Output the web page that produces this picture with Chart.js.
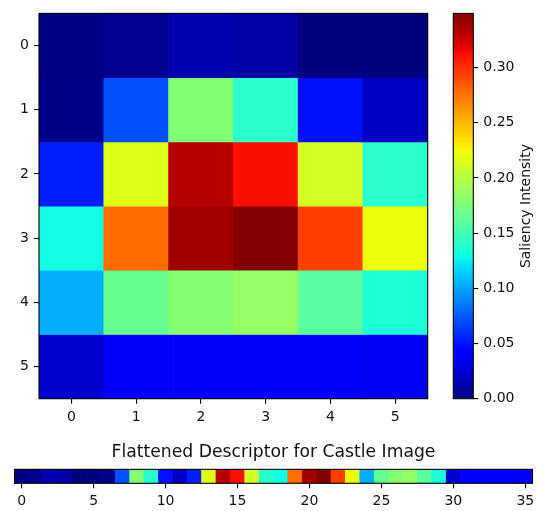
<!DOCTYPE html>
<html lang="en">
<head>
<meta charset="UTF-8">
<title>Saliency heatmap</title>
<script src="https://cdn.jsdelivr.net/npm/chart.js"></script>
<style>
    body { margin: 0; background: #fff; }
    #wrap { position: relative; width: 542px; height: 511px; }
    canvas { position: absolute; }
</style>
</head>
<body>
<div id="wrap">
    <canvas id="heatChart" width="440" height="430" style="left:0;top:0"></canvas>
    <canvas id="cbarChart" width="102" height="430" style="left:440px;top:0"></canvas>
    <canvas id="stripChart" width="542" height="81" style="left:0;top:430px"></canvas>
</div>
<script>
// data
var rowLabels = [0, 1, 2, 3, 4, 5];
var colLabels = [0, 1, 2, 3, 4, 5];
var row0 = [0.001, 0.005, 0.015, 0.012, 0.000, 0.000];
var row1 = [0.003, 0.071, 0.177, 0.140, 0.049, 0.019];
var row2 = [0.054, 0.217, 0.332, 0.312, 0.212, 0.140];
var row3 = [0.131, 0.278, 0.339, 0.349, 0.294, 0.222];
var row4 = [0.104, 0.165, 0.179, 0.185, 0.160, 0.134];
var row5 = [0.024, 0.041, 0.040, 0.040, 0.040, 0.036];
var saliency = [row0, row1, row2, row3, row4, row5];
var cbarTicks = [0, 0.05, 0.10, 0.15, 0.20, 0.25, 0.30];
var stripTicks = [0, 5, 10, 15, 20, 25, 30, 35];

var flat = saliency.flat();
var vmin = Math.min.apply(null, flat);
var vmax = Math.max.apply(null, flat);

// matplotlib jet colormap
var jetR = [[0, 0], [0.35, 0], [0.66, 1], [0.89, 1], [1, 0.5]];
var jetG = [[0, 0], [0.125, 0], [0.375, 1], [0.64, 1], [0.91, 0], [1, 0]];
var jetB = [[0, 0.5], [0.11, 1], [0.34, 1], [0.65, 0], [1, 0]];

function interp(pts, t) {
    for (var i = 1; i < pts.length; i++) {
        if (t <= pts[i][0]) {
            var a = pts[i - 1], b = pts[i];
            return a[1] + (b[1] - a[1]) * (t - a[0]) / (b[0] - a[0]);
        }
    }
    return pts[pts.length - 1][1];
}

function jet(t) {
    t = Math.max(0, Math.min(1, t));
    return 'rgb(' + Math.round(interp(jetR, t) * 255) + ',' +
        Math.round(interp(jetG, t) * 255) + ',' +
        Math.round(interp(jetB, t) * 255) + ')';
}

function jetColor(v) {
    return jet((v - vmin) / (vmax - vmin));
}

Chart.defaults.font.family = 'DejaVu Sans';
Chart.defaults.font.size = 14;
Chart.defaults.color = '#111';
Chart.defaults.animation = false;
Chart.defaults.plugins.legend.display = false;
Chart.defaults.plugins.tooltip.enabled = false;

// black frame round the plot area, like matplotlib spines
var framePlugin = {
    id: 'frame',
    afterDraw: function (chart) {
        var a = chart.chartArea, ctx = chart.ctx;
        ctx.save();
        ctx.strokeStyle = '#000';
        ctx.lineWidth = 1.1;
        ctx.strokeRect(a.left, a.top, a.right - a.left, a.bottom - a.top);
        ctx.restore();
    }
};

function tickGrid() {
    return { drawOnChartArea: false, drawTicks: true, tickLength: 5, color: '#000', lineWidth: 1.1, offset: false };
}

function setTicks(list) {
    return function (scale) {
        scale.ticks = list.map(function (v) { return { value: v }; });
    };
}

// main heatmap: one floating-bar dataset per row
var heatDatasets = saliency.map(function (row, r) {
    return {
        data: row.map(function (v, c) {
            return { x: colLabels[c], y: [rowLabels[r] - 0.5, rowLabels[r] + 0.5] };
        }),
        backgroundColor: row.map(jetColor),
        borderWidth: 0,
        barPercentage: 1,
        categoryPercentage: 1,
        grouped: false
    };
});

new Chart(document.getElementById('heatChart').getContext('2d'), {
    type: 'bar',
    data: { datasets: heatDatasets },
    options: {
        responsive: false,
        layout: { padding: { left: 0, right: 12.3, top: 9.3, bottom: 0 } },
        scales: {
            x: {
                type: 'linear', min: -0.5, max: 5.5, offset: false,
                grid: tickGrid(), border: { display: false },
                ticks: { padding: 5, maxRotation: 0 },
                afterBuildTicks: setTicks(colLabels),
                afterFit: function (s) { s.height = 31.3; }
            },
            y: {
                type: 'linear', min: -0.5, max: 5.5, reverse: true,
                grid: tickGrid(), border: { display: false },
                ticks: { padding: 5 },
                afterBuildTicks: setTicks(rowLabels),
                afterFit: function (s) { s.width = 39; }
            }
        }
    },
    plugins: [framePlugin]
});

// colour bar
var cbarLabel = {
    id: 'cbarLabel',
    afterDraw: function (chart) {
        var ctx = chart.ctx, a = chart.chartArea;
        ctx.save();
        ctx.translate(86.5, (a.top + a.bottom) / 2);
        ctx.rotate(-Math.PI / 2);
        ctx.font = '14px "DejaVu Sans"';
        ctx.fillStyle = '#111';
        ctx.textAlign = 'center';
        ctx.textBaseline = 'middle';
        ctx.fillText('Saliency Intensity', 0, 0);
        ctx.restore();
    }
};

new Chart(document.getElementById('cbarChart').getContext('2d'), {
    type: 'bar',
    data: {
        labels: ['cbar'],
        datasets: [{
            data: [[vmin, vmax]],
            borderWidth: 0,
            barPercentage: 1,
            categoryPercentage: 1,
            backgroundColor: function (context) {
                var a = context.chart.chartArea;
                if (!a) return null;
                var g = context.chart.ctx.createLinearGradient(0, a.bottom, 0, a.top);
                for (var i = 0; i <= 64; i++) g.addColorStop(i / 64, jet(i / 64));
                return g;
            }
        }]
    },
    options: {
        responsive: false,
        layout: { padding: { left: 13.3, right: 0, top: 9.3, bottom: 31.3 } },
        scales: {
            x: { display: false },
            y: {
                type: 'linear', position: 'right', min: vmin, max: vmax,
                grid: tickGrid(), border: { display: false },
                ticks: {
                    padding: 5,
                    callback: function (v) { return v.toFixed(2); }
                },
                afterBuildTicks: setTicks(cbarTicks),
                afterFit: function (s) { s.width = 68.7; }
            }
        }
    },
    plugins: [framePlugin, cbarLabel]
});

// flattened descriptor strip
new Chart(document.getElementById('stripChart').getContext('2d'), {
    type: 'bar',
    data: {
        datasets: [{
            data: flat.map(function (v, i) { return { x: i, y: [0, 1] }; }),
            backgroundColor: flat.map(jetColor),
            borderWidth: 0,
            barPercentage: 1,
            categoryPercentage: 1
        }]
    },
    options: {
        responsive: false,
        layout: { padding: { left: 14.5, right: 9.5, top: 0, bottom: 0 } },
        plugins: {
            title: {
                display: true,
                text: 'Flattened Descriptor for Castle Image',
                color: '#111',
                font: { size: 17.2, weight: 'normal' },
                padding: { top: 12, bottom: 6.7 }
            }
        },
        scales: {
            x: {
                type: 'linear', min: -0.5, max: flat.length - 0.5, offset: false,
                grid: tickGrid(), border: { display: false },
                ticks: { padding: 5, maxRotation: 0 },
                afterBuildTicks: setTicks(stripTicks),
                afterFit: function (s) { s.height = 27.7; }
            },
            y: { display: false, min: 0, max: 1 }
        }
    },
    plugins: [framePlugin]
});
</script>
</body>
</html>
